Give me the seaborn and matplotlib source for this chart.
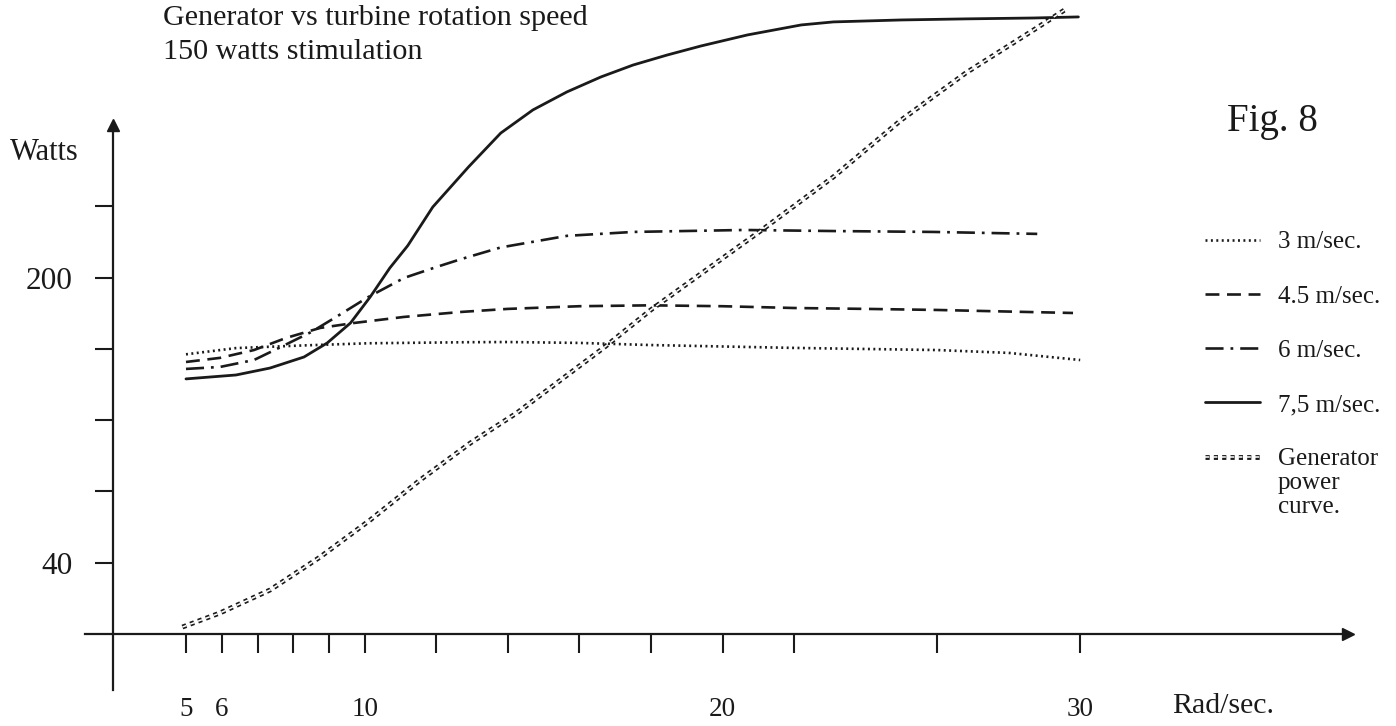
import matplotlib
matplotlib.use("Agg")
import matplotlib.pyplot as plt
import matplotlib.patheffects as pe
import seaborn as sns

# values: turbine speed (rad/sec) vs power (watts)
x_3 = [5, 6.4, 8.3, 10.1, 12.9, 14, 16, 18, 20, 22, 24, 26, 28, 30]
y_3 = [157, 160.5, 162, 163.2, 163.8, 163.9, 163.4, 162.2, 161.4, 160.6, 160, 159.4, 157.8, 153.8]

x_45 = [5, 5.95, 6.9, 7.8, 8.75, 9.7, 11.1, 12.7, 14, 16, 18, 20, 22, 24, 26, 28, 29.8]
y_45 = [152.7, 155, 159.4, 166.2, 171.8, 174.6, 178, 180.8, 182.5, 184, 184.5, 184, 183, 182.5, 181.9, 181, 180.2]

x_6 = [5, 5.95, 6.9, 7.6, 8.5, 9.2, 10.1, 11.1, 12.0, 12.7, 13.8, 15.65, 17.5, 20.6, 23.1, 25.9, 28.8]
y_6 = [148.8, 149.9, 153.8, 160.6, 169.5, 178, 189.2, 199.9, 206, 210.5, 217, 223.5, 225.7, 226.8, 226.2, 225.7, 224.6]

x_75 = [5, 6.4, 7.35, 8.3, 8.95, 9.6, 10.15, 10.7, 11.2, 11.9, 12.9, 13.8, 14.7, 15.65, 16.6,
        17.5, 18.45, 19.4, 20.7, 22.2, 23.1, 25, 26.8, 28.7, 29.95]
y_75 = [143.2, 145.4, 149.3, 155.5, 163.4, 174.6, 189.2, 205.5, 218, 239.7, 262.2, 281.2, 294.2, 304.3, 312.7,
        319.4, 325, 330.1, 336.3, 341.9, 343.6, 344.7, 345.3, 345.8, 346.4]

x_gen = [4.9, 5.95, 7.35, 8.75, 10.15, 11.55, 12.95, 14.25, 16.7, 18.0, 20.4, 21.1, 23.1, 25.0, 26.8, 28.7, 29.65]
y_gen = [3.9, 11.8, 24.7, 43.2, 64, 86.5, 107.2, 124.1, 161, 182, 216.7, 226.8, 256.6, 288.6, 314.9, 339.1, 351.4]

labels = ["3 m/sec.", "4.5 m/sec.", "6 m/sec.", "7,5 m/sec.", "Generator"]
gen_label_rest = "power\ncurve."

xticks = [5, 6, 7, 8, 9, 10, 12, 14, 16, 18, 20, 22, 26, 30]
xtick_labels = ["5", "6", "", "", "", "10", "", "", "", "", "20", "", "", "30"]
yticks = [40, 80, 120, 160, 200, 240]
ytick_labels = ["40", "", "", "", "200", ""]

W, H = 1396, 726

sns.set_theme(style="white")
plt.rcParams["font.family"] = ["Liberation Serif", "DejaVu Serif"]
plt.rcParams["lines.scale_dashes"] = False
plt.rcParams["text.color"] = "k"

fig = plt.figure(figsize=(W / 100, H / 100), dpi=100)
ax = fig.add_axes([0, 0, 1, 1])

sns.lineplot(x=x_3, y=y_3, ax=ax, color="k", lw=1.9, linestyle=(0, (1.4, 2.5)), label=labels[0])
sns.lineplot(x=x_45, y=y_45, ax=ax, color="k", lw=1.9, linestyle=(0, (10, 5.5)), label=labels[1])
sns.lineplot(x=x_6, y=y_6, ax=ax, color="k", lw=1.9, linestyle=(0, (13, 5, 2, 5)), label=labels[2])
sns.lineplot(x=x_75, y=y_75, ax=ax, color="k", lw=2.0, label=labels[3])
double = [pe.Stroke(linewidth=3.5, foreground="k"), pe.Stroke(linewidth=1.1, foreground="w")]
sns.lineplot(x=x_gen, y=y_gen, ax=ax, color="k", lw=3.5, linestyle=(0, (3.0, 3.0)),
             path_effects=double, label=labels[4])

# pixel mapping of the original drawing
ax.set_xlim(-0.2, 38.83)
ax.set_ylim(-51.65, 355.9)

ax.spines[["top", "right"]].set_visible(False)
ax.spines["left"].set_position(("data", 2.96))
ax.spines["left"].set_bounds(-31.4, 284)
ax.spines["bottom"].set_position(("data", 0))
ax.spines["bottom"].set_bounds(2.18, 37.3)
for s in ["left", "bottom"]:
    ax.spines[s].set_linewidth(1.6)
    ax.spines[s].set_color("k")
ax.plot([37.5], [0], marker=">", color="k", ms=9, clip_on=False)
ax.plot([2.96], [286], marker="^", color="k", ms=9, clip_on=False)

ax.set_xticks(xticks, labels=xtick_labels)
ax.set_yticks(yticks, labels=ytick_labels)
ax.tick_params(axis="x", bottom=True, direction="out", length=13.7, width=1.5, pad=32,
               labelsize=19.5, colors="k")
ax.tick_params(axis="y", left=True, direction="out", length=13, width=1.5, pad=16,
               labelsize=22.5, colors="k")
ax.set_xlabel("")
ax.set_ylabel("")


def fx(px):
    return px / W


def fy(py):
    return 1 - py / H


ax.text(fx(163), fy(18), "Generator vs turbine rotation speed", transform=ax.transAxes,
        fontsize=21.7, va="center", ha="left")
ax.text(fx(163), fy(52), "150 watts stimulation", transform=ax.transAxes,
        fontsize=21.7, va="center", ha="left")
ax.text(fx(10), fy(153), "Watts", transform=ax.transAxes, fontsize=22, va="center", ha="left")
ax.text(fx(1172), fy(706), "Rad/sec.", transform=ax.transAxes, fontsize=21.5, va="center", ha="left")
ax.text(fx(1227), fy(122), "Fig. 8", transform=ax.transAxes, fontsize=28, va="center", ha="left")

leg = ax.legend(loc="upper left", bbox_to_anchor=(fx(1205), fy(231)), frameon=False, fontsize=18,
                handlelength=2.2, handletextpad=0.72, labelspacing=1.27, borderpad=0, borderaxespad=0)
for t in leg.get_texts():
    t.set_color("k")
# the last legend entry runs over three lines; the handle sits by the first one
ax.annotate(gen_label_rest, xy=(0, 0), xycoords=leg.get_texts()[-1], xytext=(0, -1),
            textcoords="offset points", va="top", ha="left", fontsize=18, linespacing=1.15,
            zorder=10)

fig.savefig("out.png", dpi=100)
